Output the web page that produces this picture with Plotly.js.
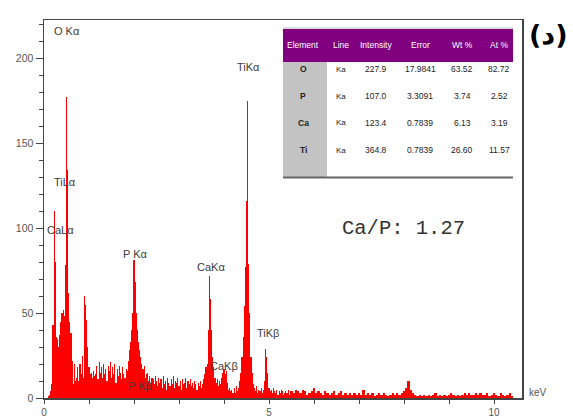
<!DOCTYPE html>
<html><head><meta charset="utf-8">
<script src="https://cdn.plot.ly/plotly-3.0.1.min.js"></script>
<style>html,body{margin:0;padding:0;background:#fff}</style>
</head><body><div id="chart" style="width:573px;height:416px"></div>
<script>
// ---- spectrum data (counts), low-energy channels 0.025 keV wide starting at 0 keV
const lowStartKeV = 0;
const lowStepKeV = 0.025;
const lowCounts = [
0,0,0,0,1,2,4,8,43,110, 80,36,35,30,37,45,50,52,48,78,
177,134,62,45,38,22,8,20,10,12, 18,10,20,14,25,12,60,55,46,30,
18,14,15,12,16,13,14,19,11,21, 15,18,12,20,14,17,10,19,16,21,
12,18,14,20,9,17,13,19,15,11, 18,14,12,17,16,22,28,33,40,50,
81,68,50,40,33,28,24,20,17,19, 12,14,15,10,13,9,12,11,8,13,
10,7,12,9,11,6,13,8,10,5, 12,9,7,11,8,13,6,10,9,12,
7,10,5,11,8,9,12,6,10,8, 11,7,9,6,10,8,5,9,7,10,
6,8,11,14,18,20,40,72,58,40, 24,18,12,9,11,7,10,8,12,15,
17,14,16,9,5,6,4,5,3,6, 3,7,4,6,10,15,24,36,54,77,
116,175,79,50,24,15,8,6,4,7, 3,5,4,6,3,5,10,29,24,15,
6,4,5,3,6,4,3,5,2,4, 3,5,4,2,3,4,3,5,2,4
];
// high-energy channels 0.05 keV wide starting at 5.5 keV
const highStartKeV = 5.5;
const highStepKeV = 0.05;
const highCounts = [
4,3,5,4,3,5,4,2,3,4,
6,3,4,3,2,4,3,2,3,4,2,3,4,2,3,2,3,2,3,2,
3,2,5,2,3,2,3,1,2,3,2,3,2,1,2,3,2,3,2,3,
4,6,10,5,3,2,1,2,1,2,1,2,1,2,3,1,2,1,2,1,
2,3,2,1,2,1,2,3,2,3,2,2,3,2,3,2,2,3,1,2,
3,2,1,3,2,1,2,3,1,0,0
];
// peak labels
const peakLabels = ['O Kα','TiLα','CaLα','P Kα','P Kβ','CaKα','CaKβ','TiKα','TiKβ'];
const peakLabelKeV = [0.50,0.46,0.37,2.03,2.14,3.70,3.99,4.54,4.97];
const peakLabelCounts = [216,127,99,85,7,77,19,195,38];
// quantification table
const tableHeader = ['Element','Line','Intensity','Error','Wt %','At %'];
const elements = ['O','P','Ca','Ti'];
const lines = ['Ka','Ka','Ka','Ka'];
const intensity = ['227.9','107.0','123.4','364.8'];
const errors = ['17.9841','3.3091','0.7839','0.7839'];
const wtPct = ['63.52','3.74','6.13','26.60'];
const atPct = ['82.72','2.52','3.19','11.57'];
const ratioText = 'Ca/P: 1.27';
const panelLabel = '(د)';
const xTickVals = [0,5,10];
const yTickVals = [0,50,100,150,200];

// ---- layout geometry
const W = 573, H = 416;
const M = {l:44, r:51, t:20, b:18};
const pw = W - M.l - M.r, ph = H - M.t - M.b;
const px = v => (v - M.l) / pw;          // pixel x -> paper
const py = v => (H - M.b - v) / ph;      // pixel y -> paper

const traces = [
 {type:'bar', x0:lowStartKeV, dx:lowStepKeV, y:lowCounts, width:lowStepKeV,
  marker:{color:'#ff0000', line:{width:0}}, hoverinfo:'none'},
 {type:'bar', x0:highStartKeV, dx:highStepKeV, y:highCounts, width:highStepKeV,
  marker:{color:'#ff0000', line:{width:0}}, hoverinfo:'none'}
];

const ann = [];
const shapes = [];
const lblFont = {family:'Liberation Sans, Arial, sans-serif', size:11, color:'#3c3c3c'};
peakLabels.forEach((t,i)=>{
  ann.push({x:peakLabelKeV[i], y:peakLabelCounts[i], xref:'x', yref:'y', text:t,
    showarrow:false, font:lblFont, xanchor:'center', yanchor:'middle'});
});
ann.push({x:px(527), y:py(392), xref:'paper', yref:'paper', text:'keV', showarrow:false,
  xanchor:'left', yanchor:'middle', font:{family:'Liberation Sans, Arial', size:10, color:'#555'}});
ann.push({x:px(403), y:py(228), xref:'paper', yref:'paper', text:ratioText, showarrow:false,
  xanchor:'center', yanchor:'middle', font:{family:'Liberation Mono, Courier New, monospace', size:20.5, color:'#333'}});
ann.push({x:px(548), y:py(35), xref:'paper', yref:'paper', text:panelLabel, showarrow:false,
  xanchor:'center', yanchor:'middle', font:{family:'DejaVu Sans, sans-serif', size:27, color:'#000', weight:'bold'}});

// table
const tx0 = 283, tx1 = 513, hy0 = 29, hy1 = 62, ty1 = 177, c1 = 327;
shapes.push({type:'rect', xref:'paper', yref:'paper', x0:px(tx0), x1:px(tx1), y0:py(ty1), y1:py(hy1),
  fillcolor:'#ffffff', line:{width:0}, layer:'above'});
shapes.push({type:'rect', xref:'paper', yref:'paper', x0:px(tx0), x1:px(tx1), y0:py(hy1), y1:py(hy0),
  fillcolor:'#800080', line:{width:0}, layer:'above'});
shapes.push({type:'line', xref:'paper', yref:'paper', x0:px(tx0), x1:px(tx1), y0:py(28), y1:py(28),
  line:{color:'#bbbbbb', width:1}, layer:'above'});
shapes.push({type:'rect', xref:'paper', yref:'paper', x0:px(tx0), x1:px(c1), y0:py(ty1), y1:py(hy1),
  fillcolor:'#c3c3c3', line:{width:0}, layer:'above'});
shapes.push({type:'line', xref:'paper', yref:'paper', x0:px(tx0), x1:px(tx1), y0:py(ty1+0.5), y1:py(ty1+0.5),
  line:{color:'#666666', width:2}, layer:'above'});
const colX = [303, 341, 376, 420, 462, 499];
const rowY = [69, 96, 123, 150];
const tf = {family:'Liberation Sans, Arial, sans-serif', size:8.5};
tableHeader.forEach((t,i)=>ann.push({x:px(colX[i]), y:py(45), xref:'paper', yref:'paper', text:t, showarrow:false,
  xanchor:'center', yanchor:'middle', font:Object.assign({}, tf, {color:'#ffffff'})}));
const cols = [elements, lines, intensity, errors, wtPct, atPct];
cols.forEach((col,ci)=>col.forEach((t,ri)=>ann.push({x:px(colX[ci]), y:py(rowY[ri]), xref:'paper', yref:'paper',
  text: ci===0 ? '<b>'+t+'</b>' : t, showarrow:false, xanchor:'center', yanchor:'middle',
  font:Object.assign({}, tf, {color:'#222', size: ci===1 ? 8 : 8.5})})));

const axisFont = {family:'Liberation Sans, Arial, sans-serif', size:10.5, color:'#555'};
const layout = {
  width:W, height:H, margin:M, paper_bgcolor:'#fff', plot_bgcolor:'#fff',
  showlegend:false, barmode:'overlay', bargap:0,
  xaxis:{range:[0, pw/45], tickvals:xTickVals, ticktext:xTickVals.map(String), ticks:'outside', ticklen:4,
    tickcolor:'#444', tickfont:Object.assign({}, axisFont, {size:10}), showline:true, linecolor:'#444', linewidth:1.5, mirror:true,
    showgrid:false, zeroline:false, minor:{dtick:1, ticks:'outside', ticklen:4, tickcolor:'#444'}},
  yaxis:{range:[0, ph/1.7], tickvals:yTickVals, ticktext:yTickVals.map(String), ticks:'outside', ticklen:7,
    tickcolor:'#444', tickfont:axisFont, showline:true, linecolor:'#444', linewidth:1.5, mirror:true,
    showgrid:false, zeroline:false, minor:{dtick:10, ticks:'outside', ticklen:4, tickcolor:'#444'}},
  annotations:ann, shapes:shapes
};
Plotly.newPlot('chart', traces, layout, {displayModeBar:false, staticPlot:true});
</script></body></html>
